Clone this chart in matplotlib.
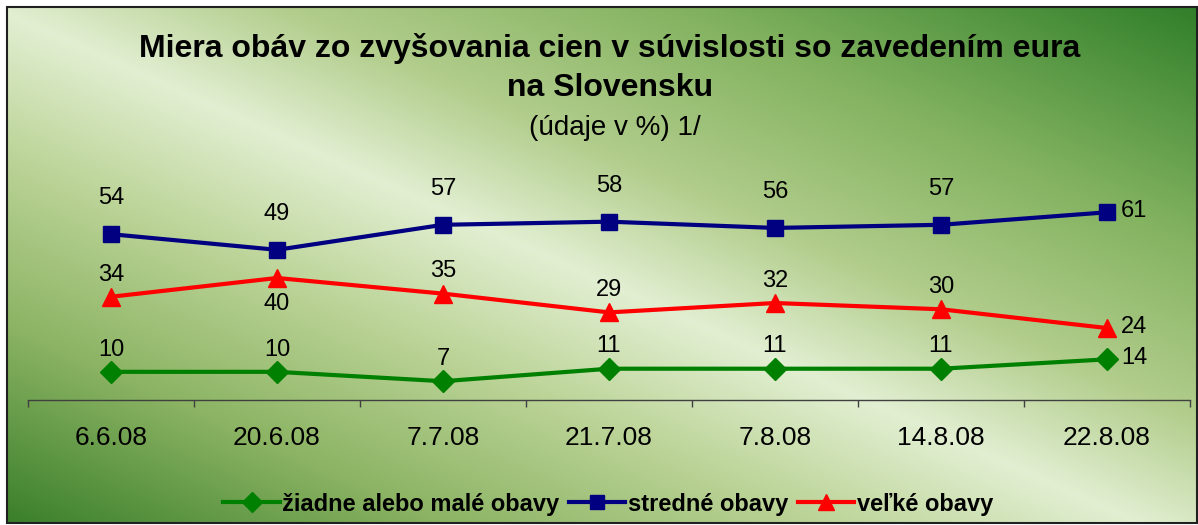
import numpy as np
import matplotlib
matplotlib.use("Agg")
import matplotlib.pyplot as plt
from matplotlib.patches import Rectangle

# data
dates = ["6.6.08", "20.6.08", "7.7.08", "21.7.08", "7.8.08", "14.8.08", "22.8.08"]
ziadne = [10, 10, 7, 11, 11, 11, 14]
stredne = [54, 49, 57, 58, 56, 57, 61]
velke = [34, 40, 35, 29, 32, 30, 24]

names = ["žiadne alebo malé obavy", "stredné obavy", "veľké obavy"]

# where each data label sits relative to its point
pos_ziadne = ["up", "up", "up", "up", "up", "up", "right"]
pos_stredne = ["up", "up", "up", "up", "up", "up", "right"]
pos_velke = ["up", "down", "up", "up", "up", "up", "right"]

plt.rcParams['font.family'] = ['Liberation Sans', 'DejaVu Sans']

W, H = 1198, 525
fig = plt.figure(figsize=(W / 100, H / 100), dpi=100)
fig.patch.set_facecolor("white")

# diagonal green gradient background
yy, xx = np.mgrid[0:H, 0:W]
t = yy - 0.45 * xx
stops_t = [-540, -300, -120, 10, 150, 320, 525]
stops_c = np.array([
    [45, 125, 40],
    [130, 178, 95],
    [178, 205, 140],
    [226, 239, 210],
    [188, 212, 152],
    [140, 180, 100],
    [55, 125, 40],
]) / 255.0
bg = np.zeros((H, W, 3))
for k in range(3):
    bg[..., k] = np.interp(t, stops_t, stops_c[:, k])
# white outside the frame
bg[:7, :] = 1
bg[524:, :] = 1
bg[:, :7] = 1
bg[:, 1197:] = 1
fig.figimage(bg, xo=0, yo=0, origin='upper', zorder=-5)

fig.patches.append(Rectangle((7 / W, 2 / H), 1190 / W, 516 / H, transform=fig.transFigure,
                             fill=False, edgecolor="#202020", linewidth=1.5))

ax = fig.add_axes([28 / W, 1 - 400 / H, 1162 / W, 219 / H])
ax.set_facecolor("none")
ax.set_zorder(2)
x = np.arange(len(dates))

series = [
    (ziadne, "#008000", "D", 11, pos_ziadne, 16),
    (stredne, "#000080", "s", 11, pos_stredne, 26),
    (velke, "#ff0000", "^", 13, pos_velke, 16),
]
for (vals, col, mk, ms, poss, up), name in zip(series, names):
    ax.plot(x, vals, color=col, lw=3, marker=mk, markersize=ms, label=name, clip_on=False)
    for xi, v, p in zip(x, vals, poss):
        if p == "up":
            off, ha, va = (0, up), "center", "center"
        elif p == "down":
            off, ha, va = (0, -19), "center", "center"
        else:
            off, ha, va = (10, 1), "left", "center"
        ax.annotate(str(v), (xi, v), xytext=off, textcoords="offset points",
                    ha=ha, va=va, fontsize=17)

ax.set_xlim(-0.5, len(dates) - 0.5)
ax.set_ylim(1, 71)
ax.set_xticks(np.arange(-0.5, len(dates), 1))
ax.set_xticklabels([])
ax.set_xticks(x, minor=True)
ax.set_xticklabels(dates, minor=True, fontsize=19)
ax.tick_params(axis="x", which="major", direction="out", length=5, width=1, color="#404040")
ax.tick_params(axis="x", which="minor", length=0, pad=19)
ax.set_yticks([])
for s in ["left", "right", "top"]:
    ax.spines[s].set_visible(False)
ax.spines["bottom"].set_color("#404040")
ax.spines["bottom"].set_linewidth(1)

fig.text(610 / W, 1 - 49 / H, "Miera obáv zo zvyšovania cien v súvislosti so zavedením eura",
         ha="center", va="center", fontsize=23, fontweight="bold")
fig.text(610 / W, 1 - 88 / H, "na Slovensku", ha="center", va="center", fontsize=23, fontweight="bold")
fig.text(615 / W, 1 - 128 / H, "(údaje v %) 1/", ha="center", va="center", fontsize=20)

fig.legend(loc="center", bbox_to_anchor=(608 / W, 1 - 504 / H), ncol=3, frameon=False,
           prop={"weight": "bold", "size": 17}, handlelength=2.4, handletextpad=0.1,
           columnspacing=0.4, markerscale=0.9)

fig.savefig("out.png", dpi=100)
